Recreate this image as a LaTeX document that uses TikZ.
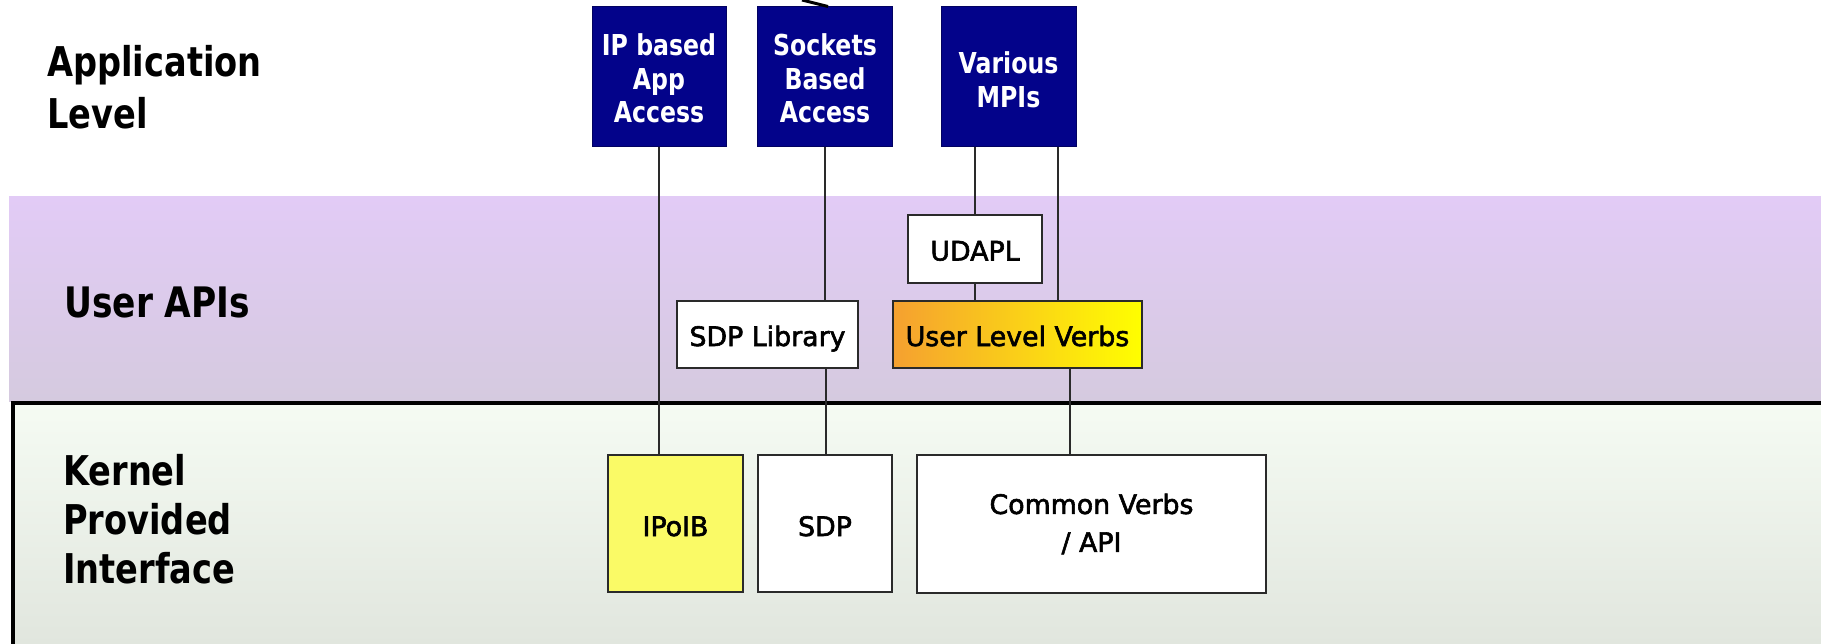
\documentclass[tikz,border=0pt]{standalone}
\usepackage{fontspec}
\setmainfont{DejaVu Sans}
\newfontfamily\hfont{DejaVu Sans}[FakeStretch=0.82]
\newfontfamily\lfont{DejaVu Sans}[FakeBold=2.2]
\definecolor{purpleTop}{HTML}{E2CBF6}
\definecolor{purpleBot}{HTML}{D5CADF}
\definecolor{greenTop}{HTML}{F5FBF3}
\definecolor{greenBot}{HTML}{E1E6DE}
\definecolor{navyBox}{HTML}{03038A}
\definecolor{ulvLeft}{HTML}{F5A030}
\definecolor{ulvRight}{HTML}{FFFF00}
\definecolor{ipoibFill}{HTML}{FAFA66}
\definecolor{lineGray}{HTML}{2A2A2A}
\tikzset{
  heading/.style={font=\hfont\bfseries\fontsize{41}{52}\selectfont, align=left, anchor=north west, inner sep=0pt, text=black},
  appbox/.style={draw=navyBox!70!black, line width=1pt, fill=navyBox, text=white, inner sep=0pt, align=center,
    font=\hfont\bfseries\fontsize{28.8}{33.5}\selectfont},
  lbl/.style={draw=lineGray, line width=1.5pt, fill=white, inner sep=0pt, align=center, text=black,
    font=\lfont\fontsize{26.8}{38}\selectfont},
  oneline/.style={text height=23pt, text depth=0pt},
  conn/.style={draw=lineGray, line width=1.8pt},
}
\begin{document}
\begin{tikzpicture}[x=1pt, y=-1pt]
\useasboundingbox (0,0) rectangle (1821,644);
\fill[white] (0,0) rectangle (1821,644);
% bands
\shade[top color=purpleTop, bottom color=purpleBot] (9,197) rectangle (1821,401);
\shade[top color=greenTop, bottom color=greenBot] (12,403) rectangle (1821,644);
\draw[line width=4pt, line join=miter] (12.5,646) -- (12.5,403) -- (1823,403);

% headings
\node[heading] (applevel) at (47,45) {Application\\Level};
\node[heading, font=\hfont\bfseries\fontsize{42}{52}\selectfont] (userapis) at (64,287) {User APIs};
\node[heading, font=\hfont\bfseries\fontsize{41}{49}\selectfont] (kernel) at (63,454) {Kernel\\Provided\\Interface};

% application level boxes
\node[appbox, minimum width=134pt, minimum height=140pt] (ipapp) at (659,77) {\rule{0pt}{25pt}IP based\\App\\Access};
\node[appbox, minimum width=135pt, minimum height=140pt] (sockets) at (825,77) {\rule{0pt}{25pt}Sockets\\Based\\Access};
\node[appbox, minimum width=135pt, minimum height=140pt] (mpis) at (1008.5,77) {\rule{0pt}{27pt}Various\\MPIs};

% user API boxes
\node[lbl, oneline, minimum width=134pt, minimum height=68pt] (udapl) at (975,249) {UDAPL};
\node[lbl, oneline, minimum width=181pt, minimum height=67pt] (sdplib) at (767.5,334.5) {SDP Library};
\node[lbl, oneline, minimum width=249pt, minimum height=67pt, left color=ulvLeft, right color=ulvRight] (ulv) at (1017.5,334.5) {User Level Verbs};

% kernel boxes
\node[lbl, text height=25pt, text depth=0pt, minimum width=135pt, minimum height=137pt, fill=ipoibFill] (ipoib) at (675.5,523.5) {IPoIB};
\node[lbl, text height=25pt, text depth=0pt, minimum width=134pt, minimum height=137pt] (sdp) at (825,523.5) {SDP};
\node[lbl, minimum width=349pt, minimum height=138pt] (common) at (1091.5,524) {Common Verbs\\/ API};

% incoming line at top
\coordinate (topin) at (802,0);
\draw[line width=3pt] (topin) -- ([xshift=3pt]sockets.north);

% connectors
\draw[conn] (ipapp.south) -- (ipapp.south |- ipoib.north);
\draw[conn] (sockets.south) -- (sockets.south |- sdplib.north);
\draw[conn] ([xshift=1pt]sdp.north |- sdplib.south) -- ([xshift=1pt]sdp.north);
\draw[conn] (udapl.north |- mpis.south) -- (udapl.north);
\draw[conn] ([xshift=49.5pt]mpis.south) -- ([xshift=49.5pt]mpis.south |- ulv.north);
\draw[conn] (udapl.south) -- (udapl.south |- ulv.north);
\draw[conn] ([xshift=-21.5pt]common.north |- ulv.south) -- ([xshift=-21.5pt]common.north);
\end{tikzpicture}
\end{document}
